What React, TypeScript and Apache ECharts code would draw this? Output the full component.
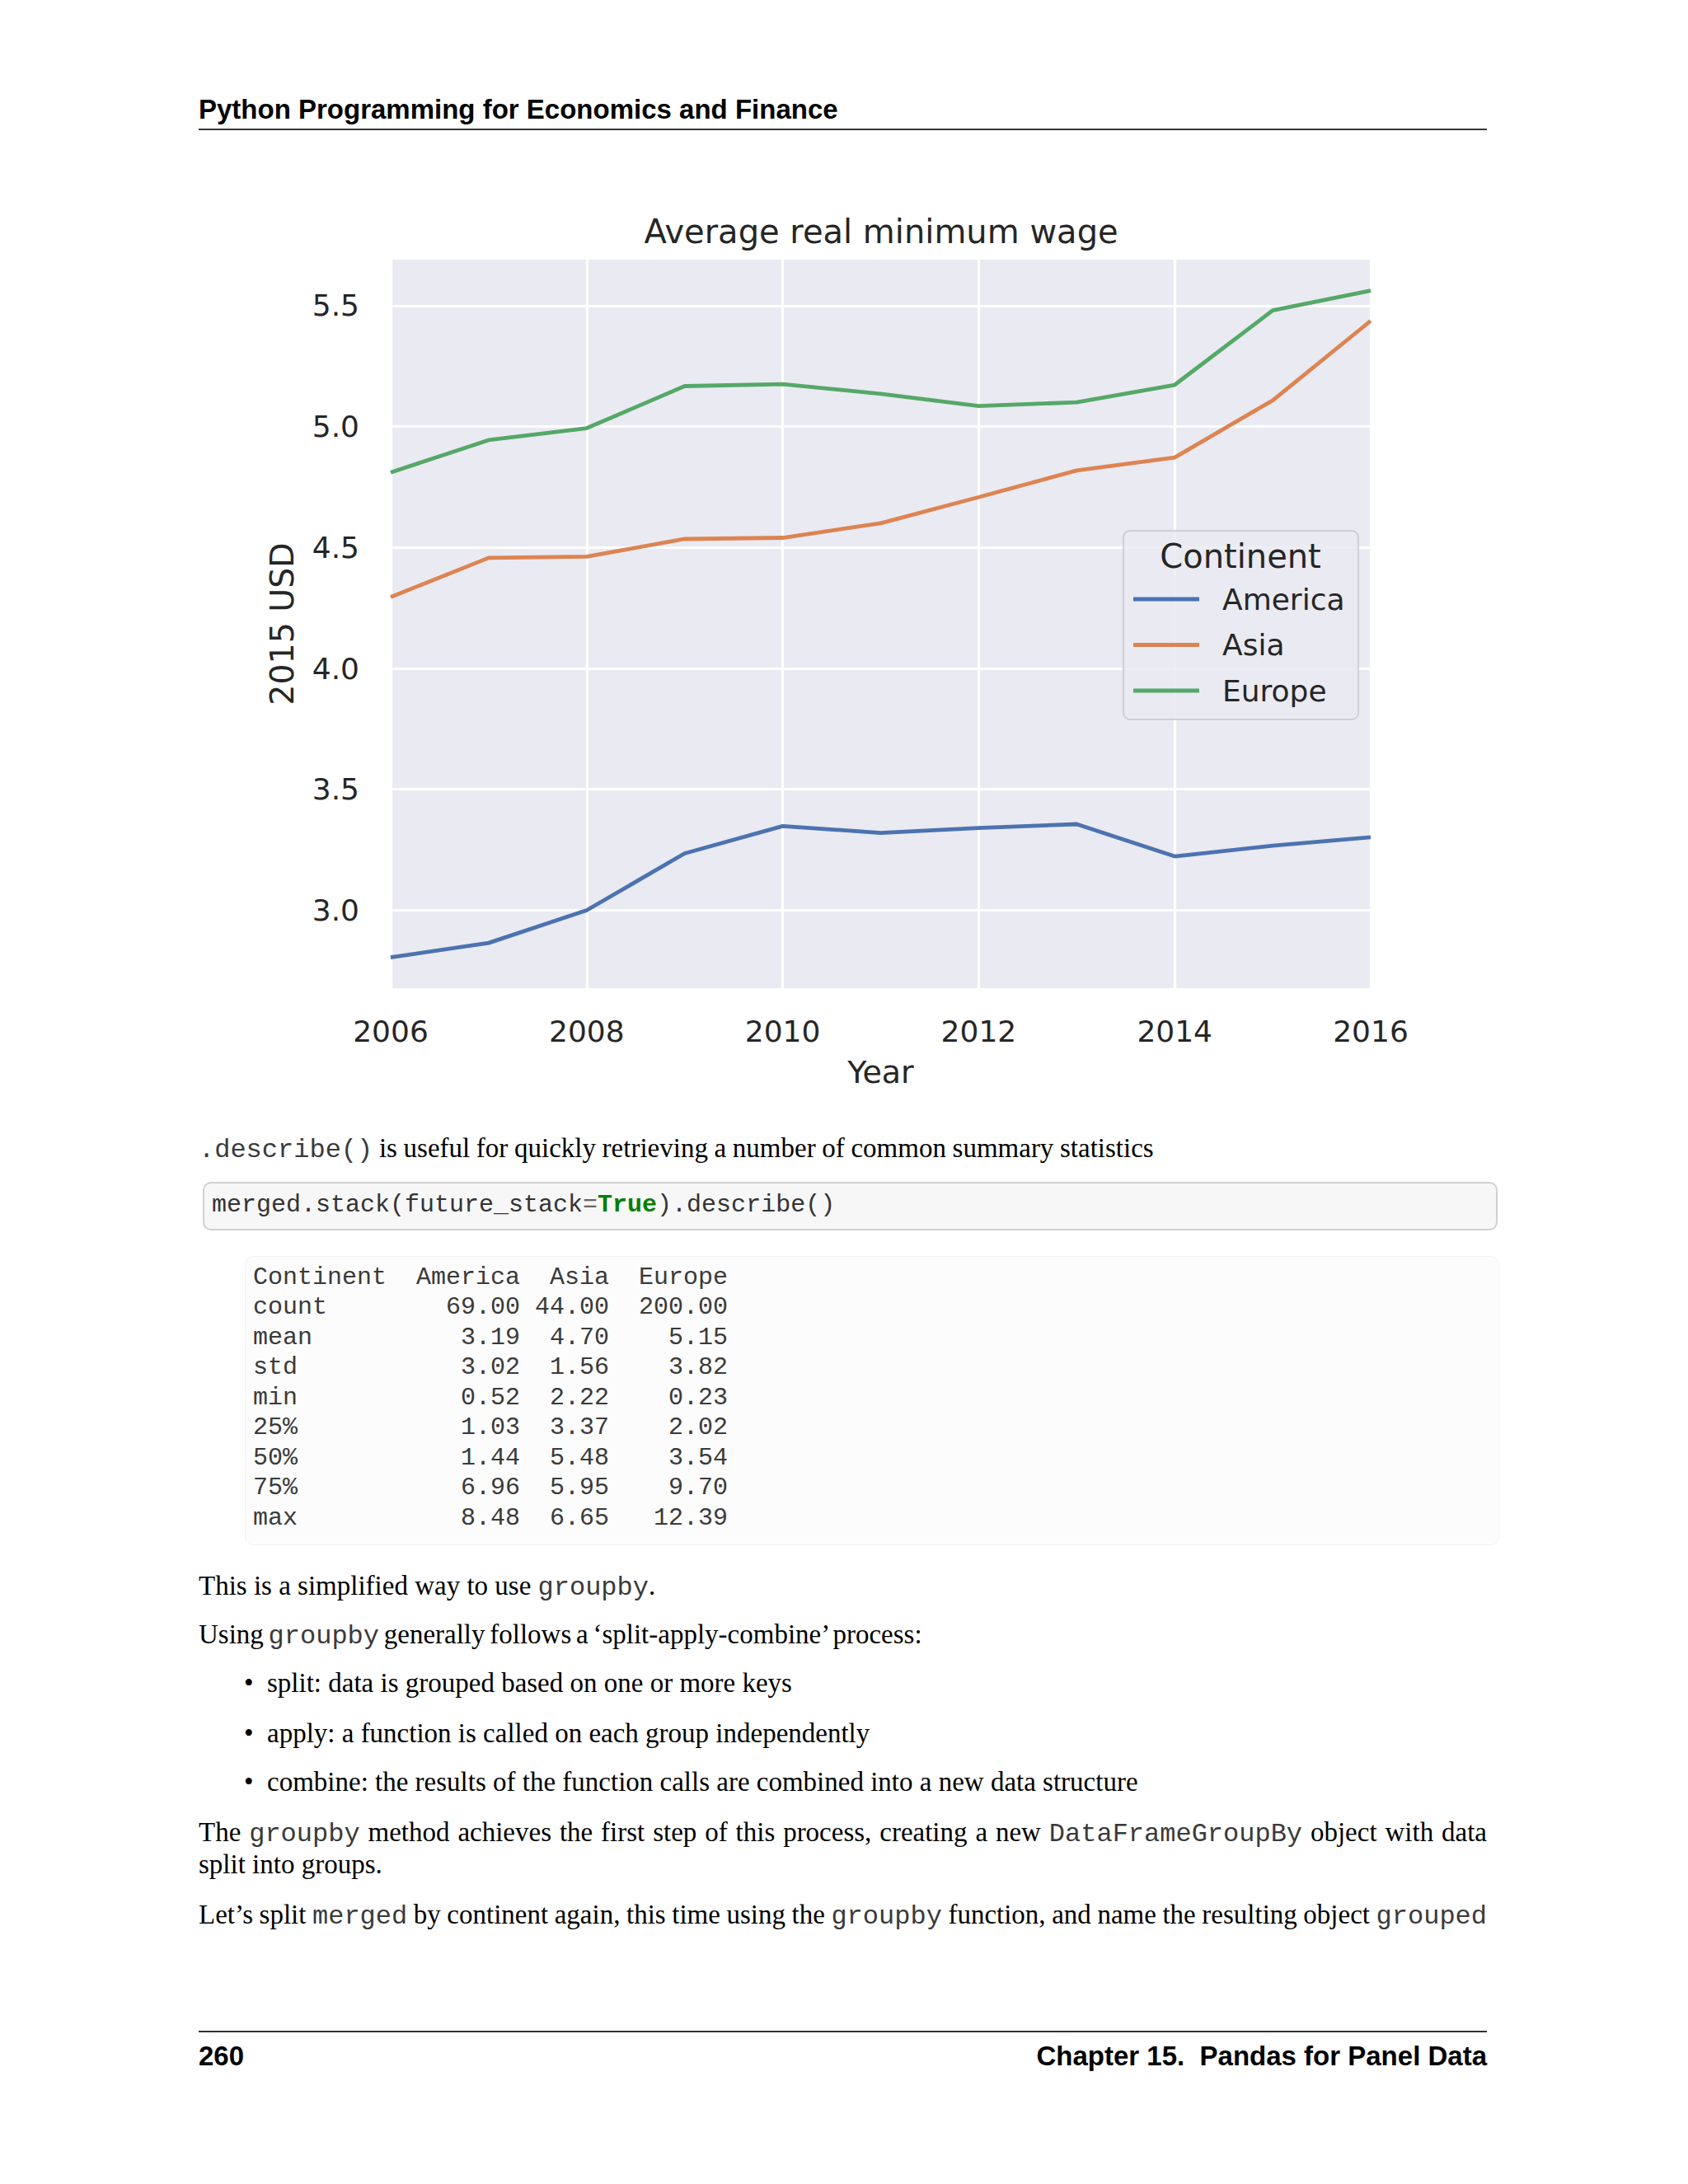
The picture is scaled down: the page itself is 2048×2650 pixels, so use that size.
import React, { useEffect, useRef } from "react";
import * as echarts from "echarts";

// ---- chart data ----
const YEARS = [2006, 2007, 2008, 2009, 2010, 2011, 2012, 2013, 2014, 2015, 2016];
const AMERICA = [2.805, 2.865, 3.0, 3.235, 3.348, 3.32, 3.34, 3.356, 3.223, 3.267, 3.302];
const ASIA = [4.295, 4.457, 4.462, 4.535, 4.54, 4.6, 4.708, 4.818, 4.872, 5.108, 5.437];
const EUROPE = [4.81, 4.944, 4.993, 5.167, 5.175, 5.135, 5.085, 5.1, 5.172, 5.48, 5.562];
const SERIES_NAMES = ["America", "Asia", "Europe"];
const Y_TICKS = [3.0, 3.5, 4.0, 4.5, 5.0, 5.5];
const X_TICKS = [2006, 2008, 2010, 2012, 2014, 2016];

// ---- describe() table data ----
const STAT_ROWS = ["count", "mean", "std", "min", "25%", "50%", "75%", "max"];
const STAT_AMERICA = ["69.00", "3.19", "3.02", "0.52", "1.03", "1.44", "6.96", "8.48"];
const STAT_ASIA = ["44.00", "4.70", "1.56", "2.22", "3.37", "5.48", "5.95", "6.65"];
const STAT_EUROPE = ["200.00", "5.15", "3.82", "0.23", "2.02", "3.54", "9.70", "12.39"];

const COLORS = ["#4c72b0", "#dd8452", "#55a868"];
const TXT = "#262626";
const FONT = "DejaVu Sans";

function Chart() {
  const ref = useRef<HTMLDivElement>(null);
  useEffect(() => {
    if (!ref.current) return;
    const chart = echarts.init(ref.current, null, { renderer: "svg" });
    const values = [AMERICA, ASIA, EUROPE];
    chart.setOption({
      animation: false,
      textStyle: { fontFamily: FONT, color: TXT },
      title: {
        text: "Average real minimum wage",
        left: 1064,
        top: 55,
        textAlign: "center",
        textStyle: { fontFamily: FONT, fontSize: 40, fontWeight: "normal", color: TXT, lineHeight: 42 },
      },
      grid: {
        left: 474,
        right: 2048 - 1663,
        top: 115,
        bottom: 1150 - 999,
        show: true,
        backgroundColor: "#eaeaf2",
        borderWidth: 0,
      },
      xAxis: {
        type: "value",
        min: X_TICKS[0],
        max: X_TICKS[X_TICKS.length - 1],
        interval: 2,
        name: "Year",
        nameLocation: "middle",
        nameGap: 82,
        nameTextStyle: { fontFamily: FONT, fontSize: 38, color: TXT, lineHeight: 40 },
        axisLine: { show: false },
        axisTick: { show: false },
        axisLabel: {
          fontFamily: FONT,
          fontSize: 36,
          color: TXT,
          margin: 34,
          showMinLabel: true,
          showMaxLabel: true,
          formatter: (v: number) => String(v),
        },
        splitLine: { show: true, lineStyle: { color: "#ffffff", width: 3.2 } },
      },
      yAxis: {
        type: "value",
        min: 2.678,
        max: 5.69,
        name: "2015 USD",
        nameLocation: "middle",
        nameGap: 112,
        nameTextStyle: { fontFamily: FONT, fontSize: 39.5, color: TXT, lineHeight: 40 },
        axisLine: { show: false },
        axisTick: { show: false, customValues: Y_TICKS },
        axisLabel: {
          fontFamily: FONT,
          fontSize: 36,
          color: TXT,
          margin: 38,
          customValues: Y_TICKS,
          formatter: (v: number) => v.toFixed(1),
        },
        splitLine: { show: true, lineStyle: { color: "#ffffff", width: 3.2 } },
      },
      legend: {
        orient: "vertical",
        left: 1375,
        top: 507,
        padding: 0,
        itemGap: 15.5,
        itemWidth: 80,
        itemHeight: 5,
        icon: "rect",
        selectedMode: false,
        data: SERIES_NAMES,
        textStyle: { fontFamily: FONT, fontSize: 36, color: TXT, lineHeight: 40, padding: [0, 0, 0, 23] },
      },
      graphic: [
        {
          type: "rect",
          z: 3,
          shape: { x: 1363, y: 444, width: 285, height: 229, r: 8 },
          style: { fill: "rgba(234,234,242,0.85)", stroke: "#cfcfd4", lineWidth: 2 },
        },
        {
          type: "text",
          z: 5,
          x: 1505,
          y: 475,
          style: {
            text: "Continent",
            fontFamily: FONT,
            fontSize: 40,
            fill: TXT,
            textAlign: "center",
            textVerticalAlign: "middle",
          },
        },
      ],
      series: SERIES_NAMES.map((name, k) => ({
        name,
        type: "line",
        symbol: "none",
        color: COLORS[k],
        lineStyle: { width: 4.8, color: COLORS[k] },
        data: YEARS.map((y, i) => [y, values[k][i]]),
      })),
    });
    return () => chart.dispose();
  }, []);
  return (
    <div
      ref={ref}
      style={{ position: "absolute", left: 0, top: 200, width: 2048, height: 1150 }}
    />
  );
}

const SERIF = "'Liberation Serif', 'Times New Roman', serif";
const SANS = "'Liberation Sans', Arial, sans-serif";
const MONO = "'Liberation Mono', 'Courier New', monospace";
const LEFT = 241;
const RIGHT = 1804;

const code = (t: string) => (
  <span style={{ fontFamily: MONO, fontSize: 32, color: "#3a3a3a" }}>{t}</span>
);

function Line(props: {
  cy: number;
  left?: number;
  justify?: boolean;
  wordSpacing?: number;
  children: React.ReactNode;
}) {
  const left = props.left ?? LEFT;
  return (
    <div
      style={{
        position: "absolute",
        left,
        top: props.cy - 20,
        width: RIGHT - left,
        height: 40,
        lineHeight: "40px",
        fontFamily: SERIF,
        fontSize: 33,
        color: "#000",
        whiteSpace: "nowrap",
        wordSpacing: props.wordSpacing ?? 0,
        textAlign: props.justify ? "justify" : "left",
        textAlignLast: props.justify ? "justify" : "left",
      }}
    >
      {props.children}
    </div>
  );
}

function Bullet(props: { cy: number; children: React.ReactNode }) {
  return (
    <>
      <Line cy={props.cy} left={296}>
        •
      </Line>
      <Line cy={props.cy} left={324}>
        {props.children}
      </Line>
    </>
  );
}

function buildTable(): string {
  const lines = ["Continent".padEnd(11) + "America" + "Asia".padStart(6) + "Europe".padStart(8)];
  STAT_ROWS.forEach((r, i) => {
    lines.push(
      r.padEnd(11) + STAT_AMERICA[i].padStart(7) + STAT_ASIA[i].padStart(6) + STAT_EUROPE[i].padStart(8)
    );
  });
  return lines.join("\n");
}

export default function App() {
  return (
    <div
      style={{
        position: "absolute",
        left: 0,
        top: 0,
        width: 2048,
        height: 2650,
        background: "#fff",
        overflow: "hidden",
      }}
    >
      {/* header */}
      <div
        style={{
          position: "absolute",
          left: LEFT,
          top: 133 - 20,
          height: 40,
          lineHeight: "40px",
          fontFamily: SANS,
          fontWeight: "bold",
          fontSize: 33,
          color: "#000",
          whiteSpace: "nowrap",
        }}
      >
        Python Programming for Economics and Finance
      </div>
      <div style={{ position: "absolute", left: LEFT, top: 156, width: RIGHT - LEFT, height: 2, background: "#333" }} />

      <Chart />

      <Line cy={1393} wordSpacing={-0.6}>
        {code(".describe()")} is useful for quickly retrieving a number of common summary statistics
      </Line>

      {/* code cell */}
      <div
        style={{
          position: "absolute",
          left: 246,
          top: 1434,
          width: 1817 - 246 - 4,
          height: 1493 - 1434 - 4,
          border: "2px solid #d0d0d0",
          borderRadius: 10,
          background: "#f7f7f7",
        }}
      />
      <div
        style={{
          position: "absolute",
          left: 257,
          top: 1462 - 20,
          height: 40,
          lineHeight: "40px",
          fontFamily: MONO,
          fontSize: 30,
          color: "#333",
          whiteSpace: "pre",
        }}
      >
        merged.stack(future_stack<span style={{ color: "#666" }}>=</span>
        <span style={{ color: "#008000", fontWeight: "bold" }}>True</span>).describe()
      </div>

      {/* output cell */}
      <div
        style={{
          position: "absolute",
          left: 297,
          top: 1524,
          width: 1819 - 297 - 2,
          height: 1875 - 1524 - 2,
          border: "1px solid #f2f2f2",
          borderRadius: 10,
          background: "#fcfcfc",
        }}
      />
      <pre
        style={{
          position: "absolute",
          left: 307,
          top: 1550 - 18.25,
          margin: 0,
          lineHeight: "36.5px",
          fontFamily: MONO,
          fontSize: 30,
          color: "#3a3a3a",
        }}
      >
        {buildTable()}
      </pre>

      <Line cy={1924}>This is a simplified way to use {code("groupby")}.</Line>
      <Line cy={1983} wordSpacing={-2.5}>
        Using {code("groupby")} generally follows a ‘split-apply-combine’ process:
      </Line>
      <Bullet cy={2042}>split: data is grouped based on one or more keys</Bullet>
      <Bullet cy={2103}>apply: a function is called on each group independently</Bullet>
      <Bullet cy={2162}>combine: the results of the function calls are combined into a new data structure</Bullet>
      <Line cy={2223} justify wordSpacing={-3}>
        The {code("groupby")} method achieves the first step of this process, creating a new {code("DataFrameGroupBy")} object with data
      </Line>
      <Line cy={2262}>split into groups.</Line>
      <Line cy={2323} justify wordSpacing={-3}>
        Let’s split {code("merged")} by continent again, this time using the {code("groupby")} function, and name the resulting object {code("grouped")}
      </Line>

      {/* footer */}
      <div style={{ position: "absolute", left: LEFT, top: 2464, width: RIGHT - LEFT, height: 2, background: "#333" }} />
      <div
        style={{
          position: "absolute",
          left: LEFT,
          top: 2495 - 20,
          width: RIGHT - LEFT,
          height: 40,
          lineHeight: "40px",
          fontFamily: SANS,
          fontWeight: "bold",
          fontSize: 33,
          color: "#000",
          whiteSpace: "pre",
        }}
      >
        <span>260</span>
        <span style={{ position: "absolute", right: 0 }}>Chapter 15.  Pandas for Panel Data</span>
      </div>
    </div>
  );
}
